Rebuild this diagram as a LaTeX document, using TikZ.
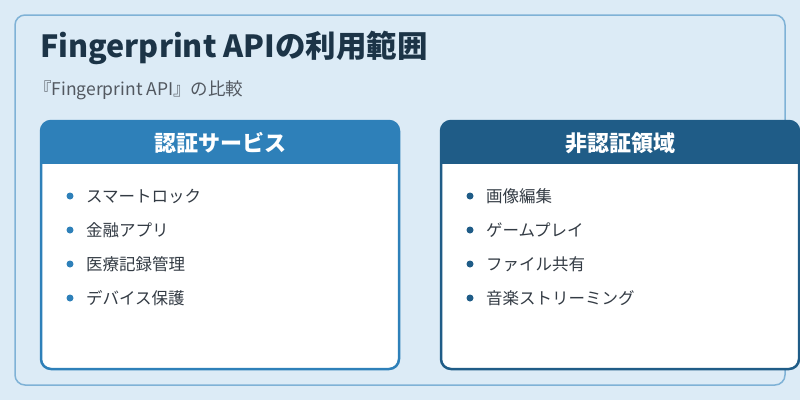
\documentclass[tikz,border=0pt]{standalone}
\usepackage{fontspec}
\setmainfont{Noto Sans CJK JP}
\definecolor{bg}{HTML}{DCEBF6}
\definecolor{frame}{HTML}{7FB2D6}
\definecolor{hdrA}{HTML}{2E80B9}
\definecolor{hdrB}{HTML}{1F5C87}
\definecolor{ink}{HTML}{1C3447}
\definecolor{txt}{HTML}{333B44}
\tikzset{
 card/.style={draw=#1,line width=2.5pt,fill=white,rounded corners=10pt},
 bul/.style={circle,fill=#1,inner sep=0pt,minimum size=7pt},
 item/.style={anchor=west,font=\fontsize{16.5}{18}\selectfont,text=txt,inner sep=0pt},
 hdr/.style={font=\bfseries\fontsize{22}{24}\selectfont,text=white}
}
\begin{document}
\begin{tikzpicture}[x=1pt,y=-1pt]
\useasboundingbox (0,0) rectangle (800,400);
\fill[bg] (0,0) rectangle (800,400);
\draw[frame,line width=1.5pt,rounded corners=10pt] (15,15) rectangle (785,385);
\node[anchor=west,font=\bfseries\fontsize{30.5}{33}\selectfont,text=ink,inner sep=0pt] (title) at (40,48) {Fingerprint APIの利用範囲};
\node[anchor=west,font=\fontsize{17.5}{19}\selectfont,text=txt!85,inner sep=0pt] (sub) at (34,90) {『Fingerprint API』の比較};
% left
\draw[card=hdrA] (41,121) rectangle (399,369);
\begin{scope}
\clip[rounded corners=10pt] (41,121) rectangle (399,369);
\fill[hdrA] (40,120) rectangle (400,164);
\end{scope}
\node[hdr] (lh) at (220,143) {認証サービス};
\foreach \t [count=\i] in {スマートロック,金融アプリ,医療記録管理,デバイス保護}{
 \node[bul=hdrA] (lb\i) at (70,162+34*\i) {};
 \node[item] (lt\i) at (86,162+34*\i) {\t};
}
% right
\draw[card=hdrB] (441,121) rectangle (799,369);
\begin{scope}
\clip[rounded corners=10pt] (441,121) rectangle (799,369);
\fill[hdrB] (440,120) rectangle (800,164);
\end{scope}
\node[hdr] (rh) at (620,143) {非認証領域};
\foreach \t [count=\i] in {画像編集,ゲームプレイ,ファイル共有,音楽ストリーミング}{
 \node[bul=hdrB] (rb\i) at (470,162+34*\i) {};
 \node[item] (rt\i) at (486,162+34*\i) {\t};
}
\end{tikzpicture}
\end{document}
